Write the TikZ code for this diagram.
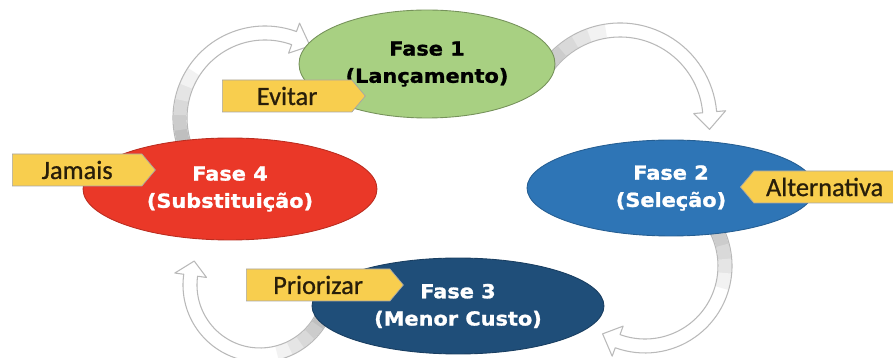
\documentclass[tikz,border=0pt]{standalone}
\usepackage{fontspec}
\usepackage{xcolor}
\usepackage{tikz}
\usetikzlibrary{calc, shapes.geometric, shapes.symbols, positioning}

\newfontfamily\fasefont[FakeStretch=1.08, BoldFeatures={FakeBold=1.2}]{DejaVu Sans}
\newfontfamily\tagfont[FakeBold=0.8]{Carlito}

\definecolor{verdefase}{RGB}{168,208,130}
\definecolor{azulfase}{RGB}{46,117,182}
\definecolor{azulescuro}{RGB}{31,78,121}
\definecolor{vermelhofase}{RGB}{234,56,40}
\definecolor{amarelo}{RGB}{248,206,78}
\definecolor{textoetiqueta}{RGB}{40,30,10}

\begin{document}
\begin{tikzpicture}[x=0.02cm, y=0.02cm,
    fase/.style={ellipse, inner sep=0pt, align=center, line width=0.5pt,
        font=\fasefont\bfseries\fontsize{11}{15.5}\selectfont},
    etiqueta/.style={signal, signal pointer angle=100, minimum height=0.64cm,
        inner xsep=2pt, fill=amarelo, draw=gray!70, text=textoetiqueta,
        font=\tagfont\fontsize{15}{16}\selectfont},
    setacorpo/.style={draw=gray!55, line width=0.6pt, line join=round}]

    \useasboundingbox (0,0) rectangle (893,358);

    % 1. Setas curvas: centro / raio / angulo inicial / base da ponta / ponta
    \coordinate (c12) at (620,238);
    \coordinate (c23) at (645,92);
    \coordinate (c34) at (260,73);
    \coordinate (c41) at (265,240);
    \foreach \c/\r/\a/\b/\p in {c12/90/150/5/-6, c23/80/35/-110/-122,
                                c34/70/-25/-188/-200, c41/85/198/70/58} {
        \fill[white] ($(\c)+({\a}:{\r+7})$) arc[start angle=\a, end angle=\b, radius=\r+7]
            -- ($(\c)+({\b}:{\r+16})$) -- ($(\c)+({\p}:{\r})$) -- ($(\c)+({\b}:{\r-16})$)
            -- ($(\c)+({\b}:{\r-7})$) arc[start angle=\b, end angle=\a, radius=\r-7] -- cycle;
        % cauda cinza que vai clareando
        \foreach \k/\t in {0/50, 1/40, 2/30, 3/20, 4/10} {
            \fill[gray!\t] ($(\c)+({\a-\k*10}:{\r+6.4})$)
                arc[start angle=\a-\k*10, end angle=\a-\k*10-11, radius=\r+6.4]
                -- ($(\c)+({\a-\k*10-11}:{\r-6.4})$)
                arc[start angle=\a-\k*10-11, end angle=\a-\k*10, radius=\r-6.4] -- cycle;
        }
        \draw[setacorpo] ($(\c)+({\a}:{\r+7})$) arc[start angle=\a, end angle=\b, radius=\r+7]
            -- ($(\c)+({\b}:{\r+16})$) -- ($(\c)+({\p}:{\r})$) -- ($(\c)+({\b}:{\r-16})$)
            -- ($(\c)+({\b}:{\r-7})$) arc[start angle=\b, end angle=\a, radius=\r-7] -- cycle;
    }

    % 2. As quatro fases
    \node[fase, fill=verdefase, draw=verdefase!70!black, text=black,
          minimum width=5.12cm, minimum height=2.16cm] (f1) at (427,294) {Fase 1\\(Lançamento)};
    \node[fase, fill=azulfase, draw=azulfase!80!black, text=white,
          minimum width=5.76cm, minimum height=1.92cm] (f2) at (671,170) {Fase 2\\(Seleção)};
    \node[fase, fill=azulescuro, draw=azulescuro!80!black, text=white,
          minimum width=5.84cm, minimum height=1.92cm] (f3) at (458,52) {Fase 3\\(Menor Custo)};
    \node[fase, fill=vermelhofase, draw=vermelhofase!80!black, text=white,
          minimum width=5.88cm, minimum height=2.04cm] (f4) at (230,169) {Fase 4\\(Substituição)};

    % 3. Etiquetas amarelas
    \node[etiqueta, signal to=east, minimum width=2.86cm, anchor=west] (evitar) at (222,262) {Evitar};
    \node[etiqueta, signal to=east, minimum width=2.86cm, anchor=west] (jamais) at (12,188) {Jamais};
    \node[etiqueta, signal to=west, minimum width=3.1cm, anchor=west] (alternativa) at (740,171) {Alternativa};
    \node[etiqueta, signal to=east, minimum width=3.14cm, anchor=west] (priorizar) at (246,73) {Priorizar};
\end{tikzpicture}
\end{document}
